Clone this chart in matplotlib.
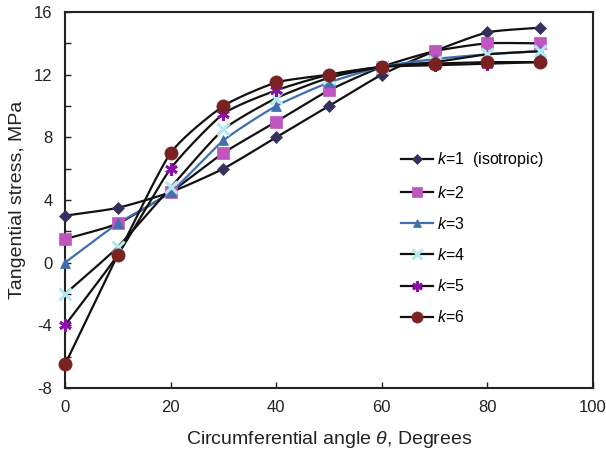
import numpy as np
import matplotlib
matplotlib.use("Agg")
import matplotlib.pyplot as plt
from matplotlib.ticker import MultipleLocator

plt.rcParams['font.family'] = ['Liberation Sans', 'DejaVu Sans']
plt.rcParams['mathtext.fontset'] = 'custom'
plt.rcParams['mathtext.rm'] = 'Liberation Sans'
plt.rcParams['mathtext.it'] = 'Liberation Sans:italic'
plt.rcParams['axes.unicode_minus'] = False

angles = [0, 10, 20, 30, 40, 50, 60, 70, 80, 90]
k1 = [3.0, 3.5, 4.5, 6.0, 8.0, 10.0, 12.0, 13.5, 14.7, 15.0]
k2 = [1.5, 2.5, 4.5, 7.0, 9.0, 11.0, 12.5, 13.5, 14.0, 14.0]
k3 = [0.0, 2.5, 4.5, 7.8, 10.0, 11.5, 12.5, 13.0, 13.3, 13.5]
k4 = [-2.0, 1.0, 4.8, 8.5, 10.5, 11.8, 12.5, 12.8, 13.3, 13.5]
k5 = [-4.0, 0.5, 6.0, 9.5, 11.0, 12.0, 12.5, 12.6, 12.7, 12.8]
k6 = [-6.5, 0.5, 7.0, 10.0, 11.5, 12.0, 12.5, 12.7, 12.8, 12.8]
labels = ['$k$=1  (isotropic)', '$k$=2', '$k$=3', '$k$=4', '$k$=5', '$k$=6']


def smooth(x, y, n=20):
    # Catmull-Rom style smoothing (like spreadsheet "smoothed line")
    x = np.asarray(x, float)
    y = np.asarray(y, float)
    px = np.concatenate([[2 * x[0] - x[1]], x, [2 * x[-1] - x[-2]]])
    py = np.concatenate([[2 * y[0] - y[1]], y, [2 * y[-1] - y[-2]]])
    xs, ys = [], []
    t = np.linspace(0, 1, n, endpoint=False)
    a = 0.5 * 0.6
    for i in range(1, len(px) - 2):
        p0, p1, p2, p3 = px[i - 1], px[i], px[i + 1], px[i + 2]
        q0, q1, q2, q3 = py[i - 1], py[i], py[i + 1], py[i + 2]
        for tt in t:
            h00 = 2 * tt**3 - 3 * tt**2 + 1
            h10 = tt**3 - 2 * tt**2 + tt
            h01 = -2 * tt**3 + 3 * tt**2
            h11 = tt**3 - tt**2
            m1x = a * (p2 - p0); m2x = a * (p3 - p1)
            m1y = a * (q2 - q0); m2y = a * (q3 - q1)
            xs.append(h00 * p1 + h10 * m1x + h01 * p2 + h11 * m2x)
            ys.append(h00 * q1 + h10 * m1y + h01 * q2 + h11 * m2y)
    xs.append(x[-1]); ys.append(y[-1])
    return np.array(xs), np.array(ys)


fig = plt.figure(figsize=(6.06, 4.57), dpi=100)
ax = fig.add_axes([65 / 606, 1 - 388 / 457, (593 - 65) / 606, (388 - 12) / 457])

series = [k1, k2, k3, k4, k5, k6]
line_colors = ['#111111', '#111111', '#3e6fb0', '#111111', '#111111', '#111111']
mcolors = ['#35305f', '#bf55c0', '#3e6fb0', '#b3e9ef', '#8a10a8', '#7a2222']
markers = ['D', 's', '^', 'x', (6, 2, 0), 'o']
msizes = [6.5, 8.5, 7.5, 8, 9, 9.5]
mews = [0.5, 0.5, 0.5, 2.2, 2.0, 0.5]

for ys, lc, mc, m, ms, mew, lab in zip(series, line_colors, mcolors, markers, msizes, mews, labels):
    sx, sy = smooth(angles, ys)
    ax.plot(sx, sy, color=lc, lw=1.6, zorder=2)
    ax.plot(angles, ys, linestyle='none', marker=m, color=mc, markersize=ms,
            markeredgecolor=mc, markeredgewidth=mew, zorder=3, clip_on=False)
    ax.plot([], [], color=lc, lw=1.6, marker=m, markersize=ms - 1.5,
            markerfacecolor=mc, markeredgecolor=mc, markeredgewidth=mew, label=lab)

ax.set_xlim(0, 100)
ax.set_ylim(-8, 16)
ax.xaxis.set_major_locator(MultipleLocator(20))
ax.yaxis.set_major_locator(MultipleLocator(4))
ax.yaxis.set_minor_locator(MultipleLocator(2))
ax.tick_params(direction='in', which='both', labelsize=12, colors='#222222', length=4, width=1)
ax.tick_params(axis='x', pad=9)
ax.tick_params(axis='y', pad=9)
for s in ax.spines.values():
    s.set_linewidth(1.5)
    s.set_color('#222222')

ax.set_xlabel(r'Circumferential angle $\theta$, Degrees', fontsize=14, color='#222222', labelpad=10)
ax.set_ylabel('Tangential stress, MPa', fontsize=14, color='#222222', labelpad=6)

leg = ax.legend(loc='upper left', bbox_to_anchor=(0.61, 0.67), frameon=False,
                fontsize=11.5, handlelength=2.0, handletextpad=0.2, labelspacing=0.95)

fig.savefig('out.png', dpi=100)
